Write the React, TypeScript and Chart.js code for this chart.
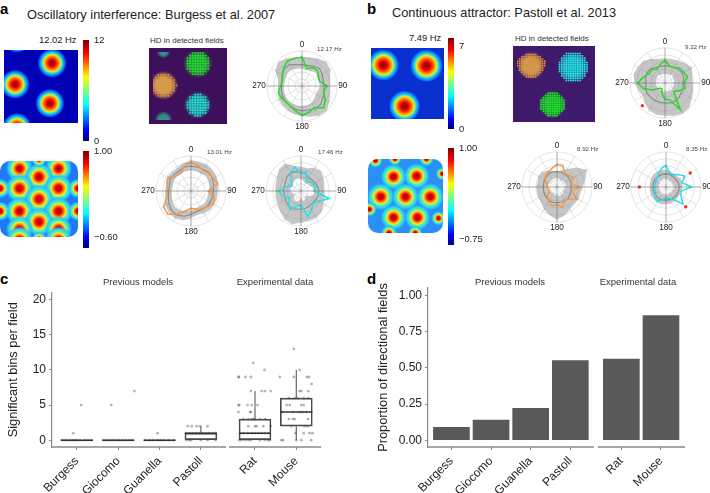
import React, { useEffect, useRef } from "react";
import { Chart, registerables } from "chart.js";

Chart.register(...registerables);
Chart.defaults.font.family = "'Liberation Sans', Arial, sans-serif";
Chart.defaults.animation = false as any;

// ---------- polar plots: 24 direction bins, distance from centre (0-102)
const polarLabels = ["0","","","","","","90","","","","","","180","","","","","","270","","","","",""];

const a1Color = [84,52,62,64,55,53,73,65,78,89,72,79,85,74,68,65,69,71,62,58,66,75,84,83];
const a1Mean = [62,62,66,72,68,64,64,66,70,76,76,72,72,70,68,66,64,62,60,60,66,72,72,64];
const a1Inner = [50,48,50,55,52,50,52,48,46,50,56,58,58,58,58,57,56,54,52,52,54,56,55,52];
const a1Outer = [85,86,92,100,95,85,81,85,92,102,100,92,88,85,82,80,78,72,70,72,90,98,92,86];

const a2Color = [83,77,70,72,74,80,50,70,75,65,62,54,50,60,78,95,92,72,68,73,77,62,60,75];
const a2Mean = [72,72,72,75,72,68,65,65,65,65,62,62,68,76,80,80,74,68,65,65,70,68,68,72];
const a2Inner = [60,60,58,62,58,55,52,50,52,52,50,52,56,62,64,66,62,58,55,55,58,58,58,60];
const a2Outer = [90,88,90,88,85,82,78,78,78,78,75,72,78,88,92,90,85,78,75,75,80,78,78,84];

const a3Color = [50,57,32,38,42,46,37,85,60,50,62,77,40,45,62,50,39,55,66,46,30,40,60,73];
const a3Mean = [55,52,45,45,48,50,52,52,50,48,50,52,52,55,58,55,52,50,50,50,52,58,60,58];
const a3Inner = [35,30,25,28,30,35,38,38,30,20,25,30,22,30,35,28,22,25,30,32,30,32,38,38];
const a3Outer = [70,68,78,82,75,70,68,72,76,85,90,90,92,100,95,85,78,76,75,76,80,90,92,75];

const b1Color = [66,51,52,61,63,68,55,60,45,35,90,50,47,33,19,22,40,64,79,65,54,54,46,55];
const b1Mean = [50,50,52,55,58,56,52,54,55,58,60,60,58,58,58,58,60,58,55,58,60,58,52,50];
const b1Inner = [26,26,28,30,28,28,26,26,26,26,26,24,24,24,26,26,26,26,26,26,28,30,28,26];
const b1Outer = [72,72,75,82,90,82,80,85,90,100,102,98,95,95,92,82,75,80,88,95,92,90,80,72];
const b1Red = [null,null,null,null,null,null,null,null,null,null,null,null,null,null,null,93,null,null,null,null,null,null,null,null];

const b2Color = [65,65,45,48,55,42,65,44,68,50,44,62,50,57,49,40,25,25,28,30,42,47,50,56];
const b2Mean = [45,45,44,44,44,42,42,42,44,46,46,46,45,46,46,44,42,40,40,40,42,44,46,46];
const b2Inner = [26,24,22,24,26,26,24,22,22,24,26,26,24,24,22,22,24,24,26,26,24,24,26,26];
const b2Outer = [45,50,60,80,100,85,75,70,72,70,75,85,95,85,75,65,62,60,60,58,62,62,55,48];

const b3Color = [63,41,41,51,63,48,74,45,50,70,41,34,30,38,48,45,34,33,33,32,33,37,42,55];
const b3Mean = [38,38,36,36,36,38,38,38,38,38,38,38,38,38,40,38,38,38,38,38,38,38,38,38];
const b3Inner = [24,22,22,22,22,22,24,22,22,22,22,22,22,22,24,22,22,22,22,22,22,24,24,24];
const b3Outer = [50,48,44,45,48,50,48,46,45,46,48,50,50,52,52,50,50,48,48,48,50,52,52,52];
const b3Red = [null,null,null,null,81,null,null,null,null,81,null,null,null,null,null,null,null,null,77,null,null,null,null,null];

// ---------- rate maps: field centres on a 0-100 box, w = field width in box units
const a1Fields = [
  { x: 65, y: 82, w: 20 }, { x: 15, y: 53, w: 20 }, { x: 62, y: 27, w: 20 },
  { x: 17.5, y: -6, w: 20 }, { x: 17.5, y: 116, w: 20 },
];
const b1Fields = [
  { x: 17, y: 76, w: 23 }, { x: 76, y: 75, w: 24 }, { x: 46, y: 18, w: 23 },
];
const a2Fields = [
  { x: 25, y: 104, w: 18 }, { x: 25, y: 90, w: 18 }, { x: 75, y: 104, w: 18 }, { x: 75, y: 90, w: 18 },
  { x: 50, y: 79, w: 19 }, { x: 25, y: 64, w: 19 }, { x: 75, y: 64, w: 19 },
  { x: 50, y: 50, w: 19 }, { x: 25, y: 34, w: 19 }, { x: 75, y: 34, w: 19 },
  { x: 50, y: 20, w: 19 }, { x: 25, y: 10, w: 18 }, { x: 25, y: -4, w: 18 },
  { x: 75, y: 10, w: 18 }, { x: 75, y: -4, w: 18 }, { x: 0, y: 64, w: 13 }, { x: 0, y: 34, w: 13 },
  { x: 100, y: 64, w: 13 }, { x: 100, y: 34, w: 13 }, { x: 50, y: 102, w: 10 }, { x: 50, y: -3, w: 10 },
];
const b2Fields = [
  { x: 34, y: 76, w: 18 }, { x: 65, y: 77, w: 18 }, { x: 17, y: 49, w: 19 }, { x: 50, y: 49, w: 19 },
  { x: 83, y: 49, w: 19 }, { x: 34, y: 21, w: 18 }, { x: 66, y: 21, w: 18 },
  { x: 36, y: 100, w: 9 }, { x: 10, y: 98, w: 10 }, { x: 78, y: 100, w: 10 }, { x: 99, y: 80, w: 9 },
  { x: 2, y: 32, w: 10 }, { x: 94, y: 20, w: 10 }, { x: 28, y: 0, w: 11 }, { x: 63, y: 0, w: 10 },
];

// ---------- HD maps: field centre, glow width and dots per row either side of centre
const hdARows = {
  green: [2, 3, 4, 4, 4, 4, 4, 3, 2],
  orange: [2, 3, 4, 4, 5, 4, 4, 3, 2],
  cyan: [1, 3, 3, 4, 4, 4, 3, 3, 1],
};
const hdBRows = {
  orange: [2, 4, 5, 6, 6, 6, 5, 5, 4, 3, 2],
  cyan: [3, 4, 5, 5, 6, 6, 6, 6, 6, 5, 5, 4, 3],
  green: [2, 3, 4, 5, 5, 5, 5, 5, 4, 3, 2],
};
const hdAFields = [
  { x: 64, y: 83, w: 21, rows: hdARows.green, base: "#2aa040", dot: "#1cf01c" },
  { x: 15, y: 51, w: 21, rows: hdARows.orange, base: "#c8a060", dot: "#f08c28" },
  { x: 64, y: 22, w: 20, rows: hdARows.cyan, base: "#2a9c98", dot: "#1eecec" },
  { x: 15, y: 101, w: 10, rows: [], base: "#2f8f90", dot: "#2f8f90" },
  { x: 15, y: 0, w: 13, rows: [], base: "#2f8f80", dot: "#2f8f80" },
];
const hdBFields = [
  { x: 19, y: 77, w: 19, rows: hdBRows.orange, base: "#b8a068", dot: "#f08c28" },
  { x: 76, y: 75, w: 21, rows: hdBRows.cyan, base: "#2a9cb0", dot: "#1eecec" },
  { x: 48, y: 20, w: 19, rows: hdBRows.green, base: "#269c40", dot: "#1cf01c" },
];

// ---------- panels c and d
const categories = ["Burgess", "Giocomo", "Guanella", "Pastoll", "Rat", "Mouse"];
const boxPositions = [1, 2, 3, 4, 5.31, 6.31];
const barPositions = [1, 2, 3, 4, 5.288, 6.288];
const proportions = [0.09, 0.14, 0.22, 0.55, 0.56, 0.86];
const boxQ1 = [0, 0, 0, 0, 0, 2];
const boxMedian = [0, 0, 0, 1, 1, 4];
const boxQ3 = [0, 0, 0, 1, 3, 6];
const whiskerLow = [0, 0, 0, 0, 0, 0];
const whiskerHigh = [0, 0, 0, 2, 7, 10];

const burgessPoints = [[-.09,1],[.1,5],[-.37,0],[-.31,0],[-.25,0],[-.17,0],[-.1,0],[-.05,0],[0,0],[.07,0],[.19,0],[.27,0],[.35,0]];
const giocomoPoints = [[-.17,5],[.39,7],[-.35,0],[-.27,0],[-.19,0],[-.12,0],[-.04,0],[.02,0],[.11,0],[.19,0],[.27,0],[.35,0]];
const guanellaPoints = [[-.05,1],[-.35,0],[-.24,0],[-.15,0],[-.05,0],[.02,0],[.1,0],[.22,0],[.34,0]];
const pastollPoints = [[-.32,2],[-.22,2],[-.1,2],[-.02,2],[.16,2],[-.36,1],[-.28,1],[-.2,1],[-.12,1],[-.04,1],[.04,1],[.12,1],[.2,1],[.28,1],[.35,1],[-.35,0],[-.28,0],[-.24,0],[0,0],[.16,0],[.35,0]];
const ratPoints = [[-.04,11],[.23,10],[-.4,9],[-.39,9],[-.23,9],[-.1,9],[-.1,7],[.16,7],[.24,7],[.38,7],[-.4,5],[-.38,5],[-.18,5],[-.08,5],[.06,5],[-.4,4],[-.12,4],[-.1,4],[-.28,3],[-.16,3],[-.08,3],[-.04,3],[0,3],[.12,3],[.24,3],[-.16,2],[0,2],[.04,2],[.2,2],[.38,2],[-.36,1],[-.28,1],[-.18,1],[-.08,1],[0,1],[.08,1],[.16,1],[.24,1],[.32,1],[-.38,0],[-.32,0],[-.24,0],[-.16,0],[-.1,0],[.12,0],[.24,0],[.32,0],[.36,0]];
const mousePoints = [[-.06,13],[.08,10],[-.4,9],[-.06,9],[.26,9],[.31,9],[.37,8],[.08,7],[.12,7],[.29,7],[-.18,6],[-.04,6],[.04,6],[.18,6],[.29,6],[-.23,5],[-.16,5],[.12,5],[.18,5],[-.34,4],[-.08,4],[.08,4],[.15,4],[.24,4],[-.18,3],[-.08,3],[-.04,3],[.28,3],[-.12,2],[.2,2],[.28,2],[-.02,1],[.18,1],[.32,1],[.39,1],[-.36,0],[-.32,0],[0,0],[.12,0],[.36,0]];
const stripPoints = [burgessPoints, giocomoPoints, guanellaPoints, pastollPoints, ratPoints, mousePoints];

// ---------- helpers
const BLANK = { plugins: { legend: { display: false }, tooltip: { enabled: false } }, events: [] as any[], responsive: false, animation: false as const };

const FIRING_STOPS: [number, string][] = [[0,"#900000"],[.2,"#d00000"],[.33,"#ff3000"],[.48,"#ffa000"],[.58,"#d8f030"],[.68,"#30e0c8"],[.8,"#1090ff"],[.92,"#0040e8"],[1,"rgba(0,0,170,0)"]];
const AUTO_STOPS: [number, string][] = [[0,"#a00000"],[.22,"#f00000"],[.38,"#ff9000"],[.5,"#e0f040"],[.62,"#50f0b0"],[.78,"#30d0f0"],[1,"rgba(40,150,255,0)"]];
const JET_STOPS: [number, string][] = [[0,"#00007f"],[.11,"#0000ff"],[.36,"#00ffff"],[.5,"#80ff80"],[.63,"#ffff00"],[.87,"#ff0000"],[1,"#7f0000"]];

function fieldDataset(fields: any[], stopsOf: (f: any) => [number, string][]) {
  const radius = (c: any) => {
    if (!c.raw) return 0;
    const { x } = c.chart.scales;
    const r = Math.abs(x.getPixelForValue(c.raw.w) - x.getPixelForValue(0));
    return Number.isFinite(r) ? r : 0;
  };
  return {
    type: "scatter",
    data: fields,
    clip: 0,
    pointBorderWidth: 0,
    pointRadius: radius,
    pointHoverRadius: radius,
    pointBackgroundColor: (c: any) => {
      if (!c.raw) return "transparent";
      const { x, y } = c.chart.scales;
      const px = x.getPixelForValue(c.raw.x), py = y.getPixelForValue(c.raw.y);
      const r = radius(c);
      if (!Number.isFinite(px) || !Number.isFinite(py) || r <= 0) return "transparent";
      const g = c.chart.ctx.createRadialGradient(px, py, 0, px, py, r);
      stopsOf(c.raw).forEach(([o, col]) => g.addColorStop(o, col));
      return g;
    },
  };
}

function boxScales() {
  return {
    x: { type: "linear", min: 0, max: 100, display: false },
    y: { type: "linear", min: 0, max: 100, display: false },
  };
}

function heatConfig(fields: any[], stops: [number, string][]) {
  return { type: "scatter", data: { datasets: [fieldDataset(fields, () => stops)] }, options: { ...BLANK, scales: boxScales() } };
}

function hdConfig(fields: any[], step: number, vstep: number) {
  const dots = fields.map((f) => ({
    type: "scatter",
    clip: 0,
    data: f.rows.flatMap((half: number, r: number) => {
      const cols = [];
      for (let k = -half; k <= half; k++) cols.push({ x: f.x + k * step, y: f.y + ((f.rows.length - 1) / 2 - r) * vstep });
      return cols;
    }),
    pointStyle: "rect",
    pointRadius: 1.1,
    pointBorderWidth: 0,
    pointBackgroundColor: f.dot,
  }));
  const glows = fields.map((f) =>
    fieldDataset([f], (raw: any) => [[0, raw.base], [.55, raw.base], [1, raw.base + "00"]])
  );
  return { type: "scatter", data: { datasets: [...dots, ...glows] }, options: { ...BLANK, scales: boxScales() } };
}

function colorbarConfig(lo: number, hi: number, ticks: number[], labels: string[]) {
  return {
    type: "bar",
    data: {
      labels: [""],
      datasets: [{
        data: [[lo, hi]],
        barPercentage: 1,
        categoryPercentage: 1,
        backgroundColor: (c: any) => {
          const a = c.chart.chartArea;
          if (!a) return "#000";
          const g = c.chart.ctx.createLinearGradient(0, a.bottom, 0, a.top);
          JET_STOPS.forEach(([o, col]) => g.addColorStop(o, col));
          return g;
        },
      }],
    },
    options: {
      ...BLANK,
      layout: { padding: { top: 8, bottom: 8 } },
      scales: {
        x: { display: false },
        y: {
          position: "right", min: lo, max: hi,
          grid: { display: false, drawTicks: false },
          border: { display: false },
          afterBuildTicks: (s: any) => { s.ticks = ticks.map((v) => ({ value: v })); },
          afterFit: (s: any) => { s.width = 44; s.paddingTop = 0; s.paddingBottom = 0; },
          ticks: { font: { size: 9.4 }, color: "#222", padding: 5, autoSkip: false, callback: (_: any, i: number) => labels[i] },
        },
      },
    },
  };
}

function polarConfig(color: string, values: number[], mean: number[], inner: number[], outer: number[], red?: (number | null)[]) {
  const flat = { fill: false, pointRadius: 0, tension: 0 };
  return {
    type: "radar",
    data: {
      labels: polarLabels,
      datasets: [
        { ...flat, data: red ?? polarLabels.map(() => null), showLine: false, pointRadius: 1.7, pointBackgroundColor: "#e8302a", pointBorderWidth: 0, borderWidth: 0 },
        { ...flat, data: values, borderColor: color, borderWidth: 1.5 },
        { ...flat, data: mean, borderColor: "#8a8a8a", borderWidth: 1.1 },
        { ...flat, data: inner, borderWidth: 0, borderColor: "transparent", fill: "origin", backgroundColor: "#ffffff" },
        { ...flat, data: outer, borderWidth: 0, borderColor: "transparent", fill: "origin", backgroundColor: "#c6c6c6" },
      ],
    },
    options: {
      ...BLANK,
      scales: {
        r: {
          min: 0, max: 102,
          ticks: { display: false, stepSize: 20.4 },
          grid: { circular: true, color: "rgba(130,130,130,.28)", lineWidth: 0.8, z: 1 },
          angleLines: {
            color: (c: any) => (c.index % 6 === 0 ? "rgba(110,110,110,.7)" : c.index % 2 === 0 ? "rgba(130,130,130,.28)" : "transparent"),
            lineWidth: 0.8,
          },
          pointLabels: { display: true, font: { size: 8.2 }, color: "#222", padding: 1 },
        },
      },
    },
  };
}

const AXIS_GREY = "#8a8a8a";
function axisLine(x0: number, x1: number, y: number) {
  return { type: "scatter", showLine: true, clip: false, data: [{ x: x0, y }, { x: x1, y }], borderColor: AXIS_GREY, borderWidth: 1.3, pointRadius: 0, order: 5 };
}

function panelOptions(xMin: number, xMax: number, yMin: number, yMax: number, positions: number[], yTicks: number[], yFmt: (v: number) => string, title: string, yWidth: number, titlePad: any, right: number) {
  return {
    ...BLANK,
    layout: { padding: { top: 13, right, left: 0, bottom: 0 } },
    scales: {
      x: {
        type: "linear", min: xMin, max: xMax, offset: false,
        border: { display: false },
        grid: { drawOnChartArea: false, color: AXIS_GREY, tickLength: 3, offset: false },
        afterBuildTicks: (s: any) => { s.ticks = positions.map((v) => ({ value: v })); },
        afterFit: (s: any) => { s.height = 46; s.paddingLeft = 0; s.paddingRight = 0; },
        ticks: { autoSkip: false, minRotation: 45, maxRotation: 45, padding: 4, font: { size: 12 }, color: "#222", callback: (_: any, i: number) => categories[i] },
      },
      y: {
        type: "linear", min: yMin, max: yMax,
        border: { display: true, color: AXIS_GREY, width: 1.2 },
        grid: { drawOnChartArea: false, color: AXIS_GREY, tickLength: 3 },
        afterBuildTicks: (s: any) => { s.ticks = yTicks.map((v) => ({ value: v })); },
        afterFit: (s: any) => { s.width = yWidth; s.paddingTop = 0; s.paddingBottom = 0; },
        title: { display: true, text: title, font: { size: 12.8 }, color: "#222", padding: titlePad },
        ticks: { font: { size: 12 }, color: "#222", padding: 3, autoSkip: false, callback: (v: number) => yFmt(v) },
      },
    },
  };
}

function boxConfig() {
  const yMin = -0.97;
  const strips = stripPoints.map((pts, i) => ({
    type: "scatter", order: 3,
    data: pts.map(([dx, v]) => ({ x: boxPositions[i] + dx, y: v })),
    pointRadius: 1.4, pointBorderWidth: 0, pointBackgroundColor: "rgba(60,60,60,.38)",
  }));
  const boxes = {
    type: "bar", order: 2,
    data: boxPositions.map((x, i) => ({ x, y: [boxQ1[i], boxQ3[i]] })),
    barThickness: 32, borderWidth: 1, borderColor: "#4a4a4a", backgroundColor: "transparent", borderSkipped: false,
  };
  const medians = {
    type: "scatter", order: 1,
    data: boxPositions.map((x, i) => ({ x, y: boxMedian[i] })),
    pointStyle: "line", pointRadius: 16, pointBorderWidth: 1.5, pointBorderColor: "#333",
  };
  const whiskers = {
    type: "scatter", order: 2, showLine: true, spanGaps: false, pointRadius: 0, borderColor: "#666", borderWidth: 1.2,
    data: boxPositions.flatMap((x, i) => [
      { x, y: boxQ3[i] }, { x, y: whiskerHigh[i] }, { x, y: null },
      { x, y: boxQ1[i] }, { x, y: whiskerLow[i] }, { x, y: null },
    ]),
  };
  return {
    type: "scatter",
    data: { datasets: [axisLine(0.395, 4.608, yMin), axisLine(4.68, 6.908, yMin), ...strips, boxes, whiskers, medians] },
    options: panelOptions(0.395, 6.908, yMin, 21.03, boxPositions, [0, 5, 10, 15, 20], (v) => String(v), "Significant bins per field", 52, { top: 6, bottom: 0 }, 19),
  };
}

function barConfig() {
  const yMin = -0.0465;
  return {
    type: "scatter",
    data: {
      datasets: [
        axisLine(0.409, 4.593, yMin), axisLine(4.694, 6.894, yMin),
        { type: "bar", data: barPositions.map((x, i) => ({ x, y: proportions[i] })), barThickness: 36, backgroundColor: "#595959" },
      ],
    },
    options: panelOptions(0.409, 6.894, yMin, 1.05, barPositions, [0, 0.25, 0.5, 0.75, 1], (v) => v.toFixed(2), "Proportion of directional fields", 73, { top: 21, bottom: 0 }, 0),
  };
}

function Plot({ left, top, width, height, config, style }: any) {
  const ref = useRef<HTMLCanvasElement>(null);
  useEffect(() => {
    const chart = new Chart(ref.current as any, config());
    return () => chart.destroy();
  }, []);
  return <canvas ref={ref} width={width} height={height} style={{ position: "absolute", left, top, width, height, ...style }} />;
}

function Txt({ x, y, size, children, bold, color, center }: any) {
  return (
    <div style={{
      position: "absolute", left: x, top: y, fontSize: size, fontWeight: bold ? 700 : 400, color: color ?? "#222", whiteSpace: "nowrap", opacity: 0.999,
      lineHeight: 1, transform: center ? "translate(-50%,-50%)" : "translateY(-50%)", fontFamily: "'Liberation Sans', Arial, sans-serif",
    }}>{children}</div>
  );
}

const POLAR_W = 104, POLAR_H = 92;
function Polar({ cx, cy, config }: any) {
  return <Plot left={cx - POLAR_W / 2} top={cy - POLAR_H / 2} width={POLAR_W} height={POLAR_H} config={config} />;
}

export default function App() {
  return (
    <div style={{ position: "absolute", left: 0, top: 0, width: 710, height: 493, overflow: "hidden", background: "#fff" }}>
      <Txt x={0} y={8} size={15} bold color="#000">a</Txt>
      <Txt x={367} y={8} size={15} bold color="#000">b</Txt>
      <Txt x={0} y={278} size={15} bold color="#000">c</Txt>
      <Txt x={367} y={278} size={15} bold color="#000">d</Txt>
      <Txt x={27} y={15} size={12.8}>Oscillatory interference: Burgess et al. 2007</Txt>
      <Txt x={392} y={13} size={12.8}>Continuous attractor: Pastoll et al. 2013</Txt>

      <Txt x={39} y={40} size={9.4}>12.02 Hz</Txt>
      <Txt x={409} y={38} size={9.4}>7.49 Hz</Txt>
      <Txt x={150} y={41} size={8} color="#333">HD in detected fields</Txt>
      <Txt x={515} y={39} size={8} color="#333">HD in detected fields</Txt>

      <Plot left={4} top={50} width={74} height={73} style={{ background: "#0000b4" }} config={() => heatConfig(a1Fields, FIRING_STOPS)} />
      <Plot left={371} top={48} width={73} height={71} style={{ background: "#0a30d0" }} config={() => heatConfig(b1Fields, FIRING_STOPS)} />
      <Plot left={0} top={161} width={78} height={76} style={{ background: "#1e78f8", borderRadius: 10 }} config={() => heatConfig(a2Fields, AUTO_STOPS)} />
      <Plot left={368} top={159} width={75} height={74} style={{ background: "#2a90f4", borderRadius: 10 }} config={() => heatConfig(b2Fields, AUTO_STOPS)} />

      <Plot left={83} top={32} width={50} height={117} config={() => colorbarConfig(0, 12, [0, 12], ["0", "12"])} />
      <Plot left={83} top={143} width={50} height={113} config={() => colorbarConfig(-0.8, 1, [-0.6, 1], ["\u22120.60", "1.00"])} />
      <Plot left={448} top={30} width={50} height={107} config={() => colorbarConfig(0, 7.7, [0, 7], ["0", "7"])} />
      <Plot left={448} top={140} width={50} height={113} config={() => colorbarConfig(-0.85, 1, [-0.75, 1], ["\u22120.75", "1.00"])} />

      <Plot left={149} top={48} width={78} height={76} style={{ background: "#3e0f5a" }} config={() => hdConfig(hdAFields, 3.7, 3.9)} />
      <Plot left={513} top={46} width={82} height={76} style={{ background: "#3f1a6c" }} config={() => hdConfig(hdBFields, 3.1, 3.3)} />

      <Polar cx={300} cy={87} config={() => polarConfig("#22e022", a1Color, a1Mean, a1Inner, a1Outer)} />
      <Polar cx={189} cy={192} config={() => polarConfig("#f49a4a", a2Color, a2Mean, a2Inner, a2Outer)} />
      <Polar cx={299} cy={192} config={() => polarConfig("#22e4ee", a3Color, a3Mean, a3Inner, a3Outer)} />
      <Polar cx={663} cy={84} config={() => polarConfig("#22e022", b1Color, b1Mean, b1Inner, b1Outer, b1Red)} />
      <Polar cx={555} cy={188} config={() => polarConfig("#f49a4a", b2Color, b2Mean, b2Inner, b2Outer)} />
      <Polar cx={664} cy={188} config={() => polarConfig("#22e4ee", b3Color, b3Mean, b3Inner, b3Outer, b3Red)} />

      <Txt x={317} y={49} size={6.2} color="#444">12.17 Hz</Txt>
      <Txt x={207} y={152} size={6.2} color="#444">13.01 Hz</Txt>
      <Txt x={318} y={152} size={6.2} color="#444">17.46 Hz</Txt>
      <Txt x={685} y={47} size={6.2} color="#444">9.22 Hz</Txt>
      <Txt x={577} y={149} size={6.2} color="#444">8.92 Hz</Txt>
      <Txt x={686} y={149} size={6.2} color="#444">8.35 Hz</Txt>

      <Plot left={0} top={275} width={340} height={218} config={boxConfig} />
      <Plot left={355} top={275} width={330} height={218} config={barConfig} />

      <Txt x={138} y={282} size={9.5} center color="#333">Previous models</Txt>
      <Txt x={275} y={282} size={9.5} center color="#333">Experimental data</Txt>
      <Txt x={510} y={282} size={9.5} center color="#333">Previous models</Txt>
      <Txt x={638} y={282} size={9.5} center color="#333">Experimental data</Txt>
    </div>
  );
}
